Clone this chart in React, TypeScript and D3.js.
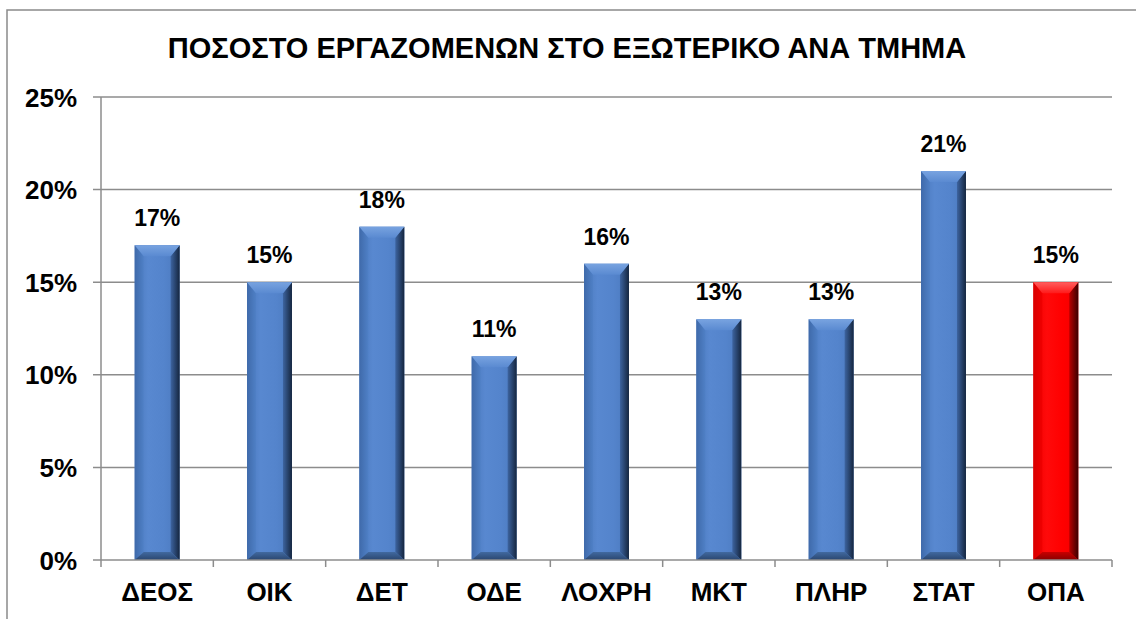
import React from "react";
import * as d3 from "d3";

const categories = ["ΔΕΟΣ", "ΟΙΚ", "ΔΕΤ", "ΟΔΕ", "ΛΟΧΡΗ", "ΜΚΤ", "ΠΛΗΡ", "ΣΤΑΤ", "ΟΠΑ"];
const values = [17, 15, 18, 11, 16, 13, 13, 21, 15];
const highlight = ["ΟΠΑ"];
const yTicks = [0, 5, 10, 15, 20, 25];
const title = "ΠΟΣΟΣΤΟ ΕΡΓΑΖΟΜΕΝΩΝ ΣΤΟ ΕΞΩΤΕΡΙΚΟ ΑΝΑ ΤΜΗΜΑ";

const W = 1136;
const H = 619;
const FONT = "'Liberation Sans', Arial, Helvetica, sans-serif";
const GRID = "#8c8c8c";

const palettes = {
  blue: {
    face: ["#4a78bc", "#5888d0", "#5484cc", "#4b79bd"],
    top: ["#78a3e0", "#5a8ad1"],
    left: ["#3f6aaa", "#4f80c6"],
    right: ["#3d64a0", "#15263f"],
    bottom: ["#41699f", "#2a4670"],
  },
  red: {
    face: ["#f00000", "#ff0a0a", "#ff0000", "#f20000"],
    top: ["#ff5e5e", "#ff1a1a"],
    left: ["#d80000", "#f00000"],
    right: ["#b80000", "#3a0000"],
    bottom: ["#c80000", "#8a0000"],
  },
};

export default function App() {
  const left = 101;
  const right = 1112;
  const top = 97;
  const bottom = 560;

  const x = d3.scaleBand<string>().domain(categories).range([left, right]).paddingInner(0.6).paddingOuter(0.3);
  const y = d3.scaleLinear().domain([0, 25]).range([bottom, top]);
  const step = (right - left) / categories.length;
  const boundaries = d3.range(categories.length + 1).map((i) => left + i * step);

  const defs = Object.entries(palettes).map(([k, p]) => (
    <g key={k}>
      <linearGradient id={`face-${k}`} x1="0" x2="1" y1="0" y2="0">
        <stop offset="0%" stopColor={p.face[0]} />
        <stop offset="30%" stopColor={p.face[1]} />
        <stop offset="65%" stopColor={p.face[2]} />
        <stop offset="100%" stopColor={p.face[3]} />
      </linearGradient>
      <linearGradient id={`top-${k}`} x1="0" x2="0" y1="0" y2="1">
        <stop offset="0%" stopColor={p.top[0]} />
        <stop offset="100%" stopColor={p.top[1]} />
      </linearGradient>
      <linearGradient id={`left-${k}`} x1="0" x2="1" y1="0" y2="0">
        <stop offset="0%" stopColor={p.left[0]} />
        <stop offset="100%" stopColor={p.left[1]} />
      </linearGradient>
      <linearGradient id={`right-${k}`} x1="0" x2="1" y1="0" y2="0">
        <stop offset="0%" stopColor={p.right[0]} />
        <stop offset="100%" stopColor={p.right[1]} />
      </linearGradient>
      <linearGradient id={`bottom-${k}`} x1="0" x2="0" y1="0" y2="1">
        <stop offset="0%" stopColor={p.bottom[0]} />
        <stop offset="100%" stopColor={p.bottom[1]} />
      </linearGradient>
    </g>
  ));

  const bars = categories.map((c, i) => {
    const k = highlight.includes(c) ? "red" : "blue";
    const bx = x(c)!;
    const bw = x.bandwidth();
    const by = y(values[i]);
    const bh = bottom - by;
    const bs = 9; // side bevel
    const bt = Math.min(11, bh / 2); // top bevel
    const bb = Math.min(8, bh / 2); // bottom bevel
    const p = (pts: number[][]) => pts.map((q) => q.join(",")).join(" ");
    return (
      <g key={c}>
        <rect x={bx} y={by} width={bw} height={bh} fill={`url(#face-${k})`} />
        <polygon
          points={p([[bx, by], [bx + bs, by + bt], [bx + bs, bottom - bb], [bx, bottom]])}
          fill={`url(#left-${k})`}
        />
        <polygon
          points={p([[bx + bw, by], [bx + bw - bs, by + bt], [bx + bw - bs, bottom - bb], [bx + bw, bottom]])}
          fill={`url(#right-${k})`}
        />
        <polygon
          points={p([[bx, by], [bx + bw, by], [bx + bw - bs, by + bt], [bx + bs, by + bt]])}
          fill={`url(#top-${k})`}
        />
        <polygon
          points={p([[bx, bottom], [bx + bw, bottom], [bx + bw - bs, bottom - bb], [bx + bs, bottom - bb]])}
          fill={`url(#bottom-${k})`}
        />
      </g>
    );
  });

  return (
    <svg width={W} height={H} style={{ position: "absolute", left: 0, top: 0, background: "#fff" }} fontFamily={FONT}>
      <defs>{defs}</defs>
      <rect x={7} y={10} width={W + 20} height={H + 20} fill="#fff" stroke="#8a8a8a" strokeWidth={1.5} />
      <text x={567} y={58} textAnchor="middle" fontSize={29} fontWeight="bold" fill="#000">
        {title}
      </text>
      {yTicks.map((t) => (
        <g key={t}>
          <line x1={left - 8} x2={t === 0 ? left : right} y1={y(t)} y2={y(t)} stroke={GRID} strokeWidth={1.5} />
          <text x={77} y={y(t) + 9.5} textAnchor="end" fontSize={26} fontWeight="bold" fill="#000">
            {t}%
          </text>
        </g>
      ))}
      {bars}
      <line x1={left} x2={left} y1={top} y2={bottom} stroke={GRID} strokeWidth={1.5} />
      <line x1={left} x2={right} y1={bottom} y2={bottom} stroke={GRID} strokeWidth={1.5} />
      {boundaries.map((b, i) => (
        <line key={i} x1={b} x2={b} y1={bottom} y2={bottom + 7} stroke={GRID} strokeWidth={1.5} />
      ))}
      {categories.map((c) => (
        <text key={c} x={x(c)! + x.bandwidth() / 2} y={601} textAnchor="middle" fontSize={26} fontWeight="bold" fill="#000">
          {c}
        </text>
      ))}
      {categories.map((c, i) => (
        <text key={c} x={x(c)! + x.bandwidth() / 2} y={y(values[i]) - 19} textAnchor="middle" fontSize={23} fontWeight="bold" fill="#000">
          {values[i]}%
        </text>
      ))}
    </svg>
  );
}
